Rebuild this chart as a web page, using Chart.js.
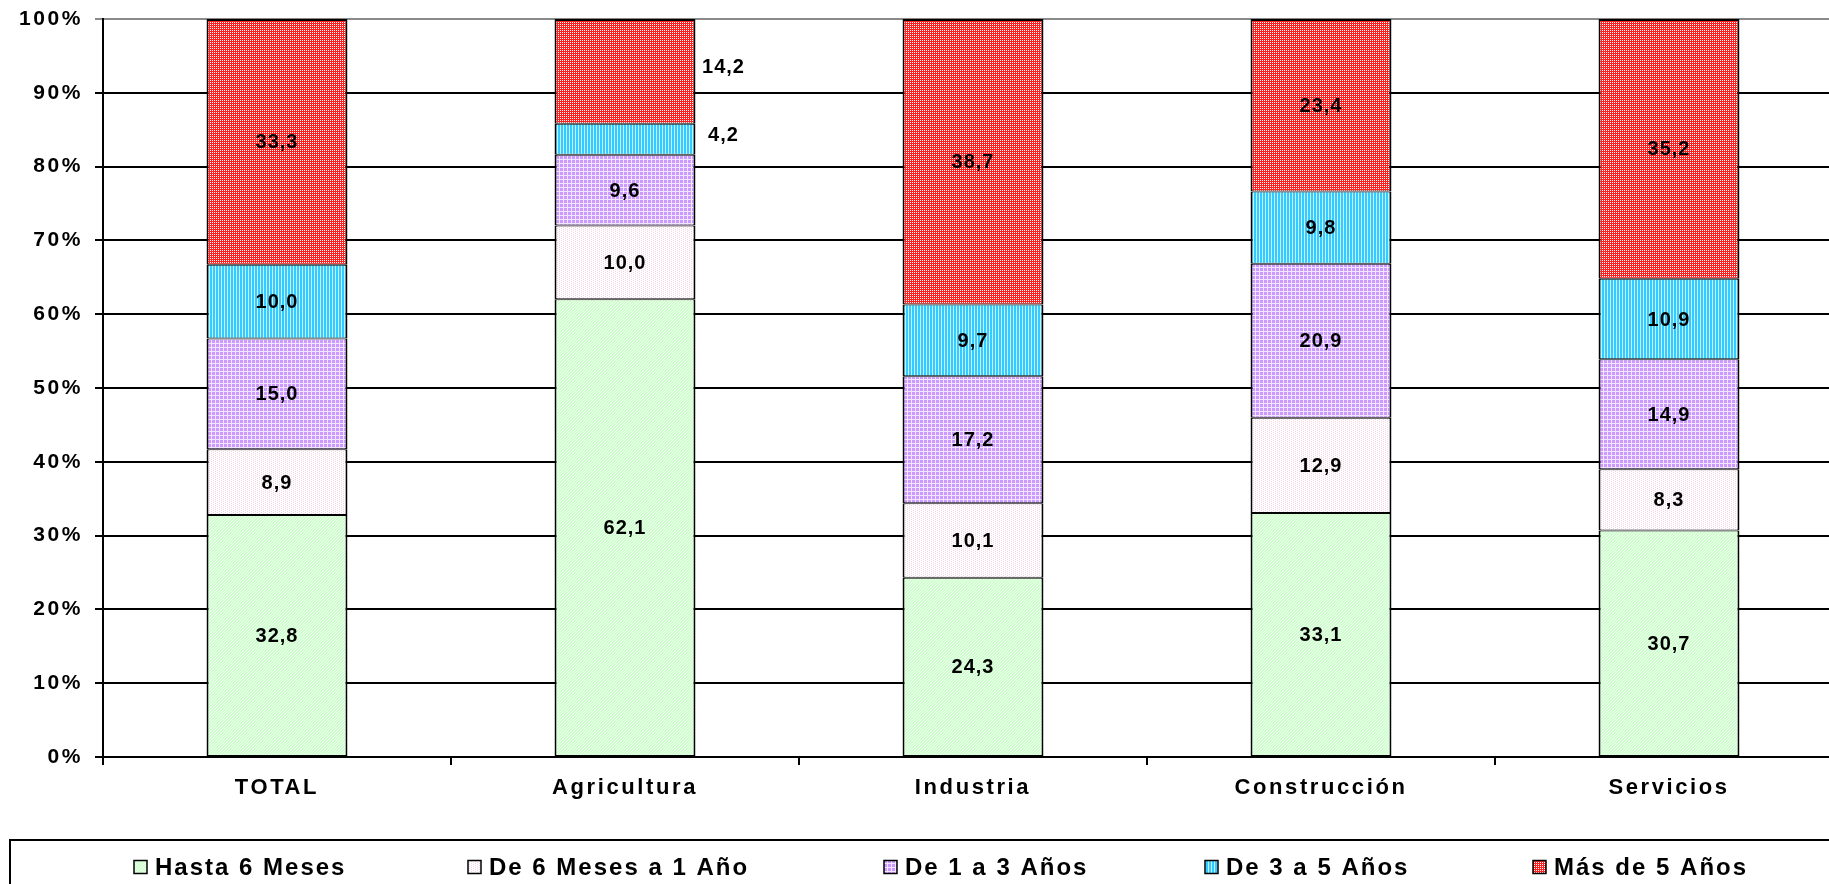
<!DOCTYPE html>
<html lang="es">
<head>
<meta charset="utf-8">
<title>Antigüedad en el puesto por sector</title>
<script src="https://cdn.jsdelivr.net/npm/chart.js@4.4.1/dist/chart.umd.min.js"></script>
<style>
  html, body { margin: 0; padding: 0; background: #ffffff; overflow: hidden; }
  #wrap { width: 1860px; height: 884px; }
</style>
</head>
<body>
<div id="wrap"><canvas id="chart" width="1860" height="884"></canvas></div>
<script>
// Categories and series
const categories = ["TOTAL", "Agricultura", "Industria", "Construcción", "Servicios"];
const seriesNames = ["Hasta 6 Meses", "De 6 Meses a 1 Año", "De 1 a 3 Años", "De 3 a 5 Años", "Más de 5 Años"];

// Values in % per category
const hasta6Meses = [32.8, 62.1, 24.3, 33.1, 30.7];
const de6MesesA1Ano = [8.9, 10.0, 10.1, 12.9, 8.3];
const de1A3Anos = [15.0, 9.6, 17.2, 20.9, 14.9];
const de3A5Anos = [10.0, 4.2, 9.7, 9.8, 10.9];
const masDe5Anos = [33.3, 14.2, 38.7, 23.4, 35.2];

// Labels that sit beside the bar instead of inside: [category, series]
const outsideLabels = [[1, 3], [1, 4]];

const seriesValues = [hasta6Meses, de6MesesA1Ano, de1A3Anos, de3A5Anos, masDe5Anos];

// Totals so every column fills 100%
const totals = categories.map((_, i) => seriesValues.reduce((s, arr) => s + arr[i], 0));

// Hatch fills, Excel style
function makePattern(size, draw) {
  const c = document.createElement("canvas");
  c.width = size; c.height = size;
  const g = c.getContext("2d");
  draw(g, size);
  return g.createPattern(c, "repeat");
}

const fills = [
  // light green, fine diagonal
  makePattern(3, (g, s) => {
    g.fillStyle = "#ccffcc"; g.fillRect(0, 0, s, s);
    g.fillStyle = "#f4fff4";
    for (let i = 0; i < s; i++) g.fillRect(i, s - 1 - i, 1, 1);
  }),
  // white with pale pink dashes
  makePattern(4, (g, s) => {
    g.fillStyle = "#ffffff"; g.fillRect(0, 0, s, s);
    g.fillStyle = "#f4d4e2";
    g.fillRect(1, 0, 1, 1); g.fillRect(1, 2, 1, 1);
    g.fillRect(3, 1, 1, 1); g.fillRect(3, 3, 1, 1);
  }),
  // lilac plaid
  makePattern(4, (g, s) => {
    g.fillStyle = "#cc99ff"; g.fillRect(0, 0, s, s);
    g.fillStyle = "#f2e6ff";
    g.fillRect(0, 3, s, 1); g.fillRect(3, 0, 1, s);
  }),
  // cyan vertical stripes
  makePattern(3, (g, s) => {
    g.fillStyle = "#33ccff"; g.fillRect(0, 0, s, s);
    g.fillStyle = "#c8f0ff"; g.fillRect(2, 0, 1, s);
  }),
  // red check
  makePattern(4, (g, s) => {
    g.fillStyle = "#ff2020"; g.fillRect(0, 0, s, s);
    g.fillStyle = "#ffffff";
    g.fillRect(0, 0, 1, 1); g.fillRect(2, 2, 1, 1);
    g.fillRect(2, 0, 1, 1); g.fillRect(0, 2, 1, 1);
  }),
];

const lastSeries = seriesNames.length - 1;

const datasets = seriesNames.map((name, k) => ({
  label: name,
  data: seriesValues[k].map((v, i) => v / totals[i] * 100),
  raw: seriesValues[k],
  backgroundColor: fills[k],
  borderColor: "#000000",
  // adjacent segments share the edge, so each draws half of it
  borderWidth: { top: k === lastSeries ? 2 : 1, bottom: 1, left: 2, right: 2 },
  borderSkipped: false,
  categoryPercentage: 1.0,
  barPercentage: 0.405,
}));

const fmt = (v) => v.toFixed(1).replace(".", ",");

// Wide tracking for axis text
const trackingPlugin = {
  id: "tracking",
  beforeDraw(chart) {
    chart.ctx.letterSpacing = "2.6px";
  },
};

// Value labels on the stacked segments
const segmentLabels = {
  id: "segmentLabels",
  afterDatasetsDraw(chart) {
    const ctx = chart.ctx;
    ctx.save();
    ctx.letterSpacing = "1px";
    ctx.font = "bold 20px 'Liberation Sans', Arial, sans-serif";
    ctx.fillStyle = "#000000";
    ctx.textBaseline = "middle";
    ctx.textAlign = "center";
    chart.data.datasets.forEach((ds, k) => {
      const meta = chart.getDatasetMeta(k);
      meta.data.forEach((bar, i) => {
        const y = (bar.y + bar.base) / 2;
        const outside = outsideLabels.some(([c, s]) => c === i && s === k);
        if (outside) {
          ctx.fillText(fmt(ds.raw[i]), bar.x + bar.width / 2 + 28, y - 4);
        } else {
          ctx.fillText(fmt(ds.raw[i]), bar.x, y + 1);
        }
      });
    });
    ctx.restore();
  },
};

// Boxed legend along the bottom
const legendStarts = [134, 468, 884, 1205, 1533];
const boxLegend = {
  id: "boxLegend",
  afterDraw(chart) {
    const ctx = chart.ctx;
    ctx.save();
    ctx.letterSpacing = "2px";
    ctx.font = "bold 24px 'Liberation Sans', Arial, sans-serif";
    const top = 840, midY = 867, box = 13, gapText = 8;
    ctx.strokeStyle = "#000000";
    ctx.lineWidth = 2;
    ctx.strokeRect(10, top, chart.width + 20, 80);
    ctx.textAlign = "left";
    ctx.textBaseline = "middle";
    seriesNames.forEach((n, k) => {
      const x = legendStarts[k];
      ctx.fillStyle = fills[k];
      ctx.fillRect(x, midY - box / 2, box, box);
      ctx.lineWidth = 1.5;
      ctx.strokeRect(x, midY - box / 2, box, box);
      ctx.fillStyle = "#000000";
      ctx.fillText(n, x + box + gapText, midY + 1);
    });
    ctx.restore();
  },
};

new Chart(document.getElementById("chart"), {
  type: "bar",
  data: { labels: categories, datasets: datasets },
  plugins: [trackingPlugin, segmentLabels, boxLegend],
  options: {
    responsive: false,
    animation: false,
    devicePixelRatio: 1,
    layout: { padding: { top: 19, right: 17, bottom: 44, left: 0 } },
    plugins: {
      legend: { display: false },
      tooltip: { enabled: false },
    },
    scales: {
      x: {
        stacked: true,
        afterFit: (scale) => { scale.height = 83; },
        grid: {
          display: true,
          drawOnChartArea: false,
          drawTicks: true,
          tickLength: 8,
          color: "#000000",
          lineWidth: 2,
        },
        border: { display: true, color: "#000000", width: 2 },
        ticks: {
          color: "#000000",
          padding: 10,
          font: { family: "'Liberation Sans', Arial, sans-serif", size: 22, weight: "bold" },
        },
      },
      y: {
        stacked: true,
        min: 0,
        max: 100,
        afterFit: (scale) => {
          scale.width = 103;
          // keep the plot top fixed by the layout padding alone
          scale.paddingTop = 0;
          scale.paddingBottom = 0;
        },
        grid: {
          color: (c) => (c.tick && c.tick.value === 100 ? "#8a8a8a" : "#000000"),
          lineWidth: 2,
          tickLength: 8,
        },
        border: { display: true, color: "#000000", width: 2 },
        ticks: {
          stepSize: 10,
          color: "#000000",
          padding: 12,
          callback: (v) => v + "%",
          font: { family: "'Liberation Sans', Arial, sans-serif", size: 21, weight: "bold" },
        },
      },
    },
  },
});
</script>
</body>
</html>
